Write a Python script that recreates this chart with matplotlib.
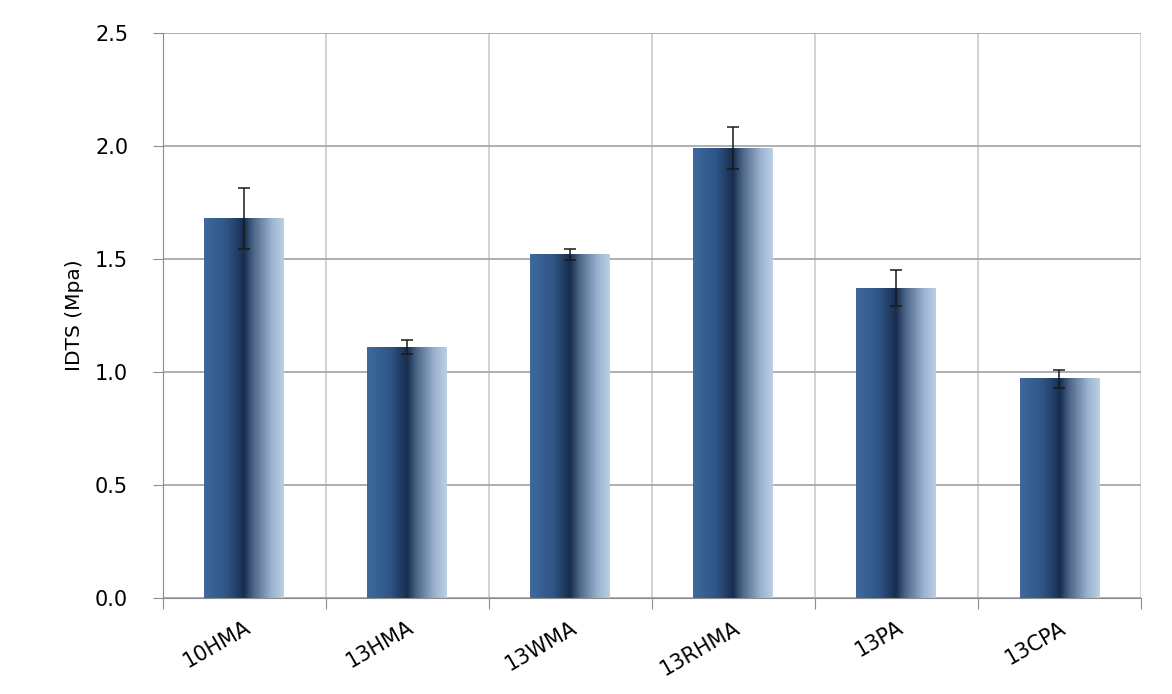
import matplotlib.pyplot as plt
import numpy as np
from matplotlib.colors import LinearSegmentedColormap

categories = ["10HMA", "13HMA", "13WMA", "13RHMA", "13PA", "13CPA"]
idts = [1.68, 1.11, 1.52, 1.99, 1.37, 0.97]
err = [0.135, 0.03, 0.025, 0.093, 0.08, 0.04]

plt.rcParams['font.family'] = ['DejaVu Sans']

fig = plt.figure(figsize=(11.72, 6.94), dpi=100)
ax = fig.add_axes([0.139, 0.1383, 0.8345, 0.8141])

x = np.arange(len(categories))
bars = ax.bar(x, idts, width=0.49, color='none', edgecolor='none', zorder=2)

# horizontal gradient like the excel bars
cmap = LinearSegmentedColormap.from_list(
    "excel", [(0.0, "#3e6a9e"), (0.3, "#2e5484"), (0.5, "#172d4f"),
              (0.62, "#4c6688"), (0.85, "#9cb3d0"), (1.0, "#bccfe6")])
grad = np.linspace(0, 1, 256).reshape(1, -1)
for b in bars:
    ax.imshow(grad, cmap=cmap, aspect='auto', zorder=2,
              extent=[b.get_x(), b.get_x() + b.get_width(), 0, b.get_height()])

ax.errorbar(x, idts, yerr=err, fmt='none', ecolor='#1a1a1a', elinewidth=1.1,
            capsize=4, capthick=1.1, zorder=3)

ax.set_xlim(-0.5, len(categories) - 0.5)
ax.set_ylim(0, 2.5)
ax.set_yticks([0, 0.5, 1.0, 1.5, 2.0, 2.5])
ax.set_yticklabels(["0.0", "0.5", "1.0", "1.5", "2.0", "2.5"], fontsize=15)

# category boundaries for grid and ticks
ax.set_xticks(np.arange(len(categories) + 1) - 0.5)
ax.set_xticklabels([])
ax.set_xticks(x, minor=True)
ax.set_xticklabels(categories, minor=True, rotation=30, fontsize=15,
                   ha='right', rotation_mode='anchor')
ax.tick_params(axis='x', which='minor', length=0, pad=14)
ax.tick_params(axis='x', which='major', length=8, color='#8c8c8c', direction='out')
ax.tick_params(axis='y', length=7, color='#8c8c8c', direction='out', pad=18)

ax.grid(True, axis='y', which='major', color='#a8a8a8', linewidth=1.3, zorder=0)
ax.grid(True, axis='x', which='major', color='#cfcfcf', linewidth=1.3, zorder=0)
ax.set_axisbelow(True)
for s in ['top', 'right']:
    ax.spines[s].set_visible(False)
ax.spines['left'].set_color('#8c8c8c')
ax.spines['bottom'].set_color('#8c8c8c')

ax.set_ylabel("IDTS (Mpa)", fontsize=14.5, labelpad=8)

plt.savefig("out.png", dpi=100)
